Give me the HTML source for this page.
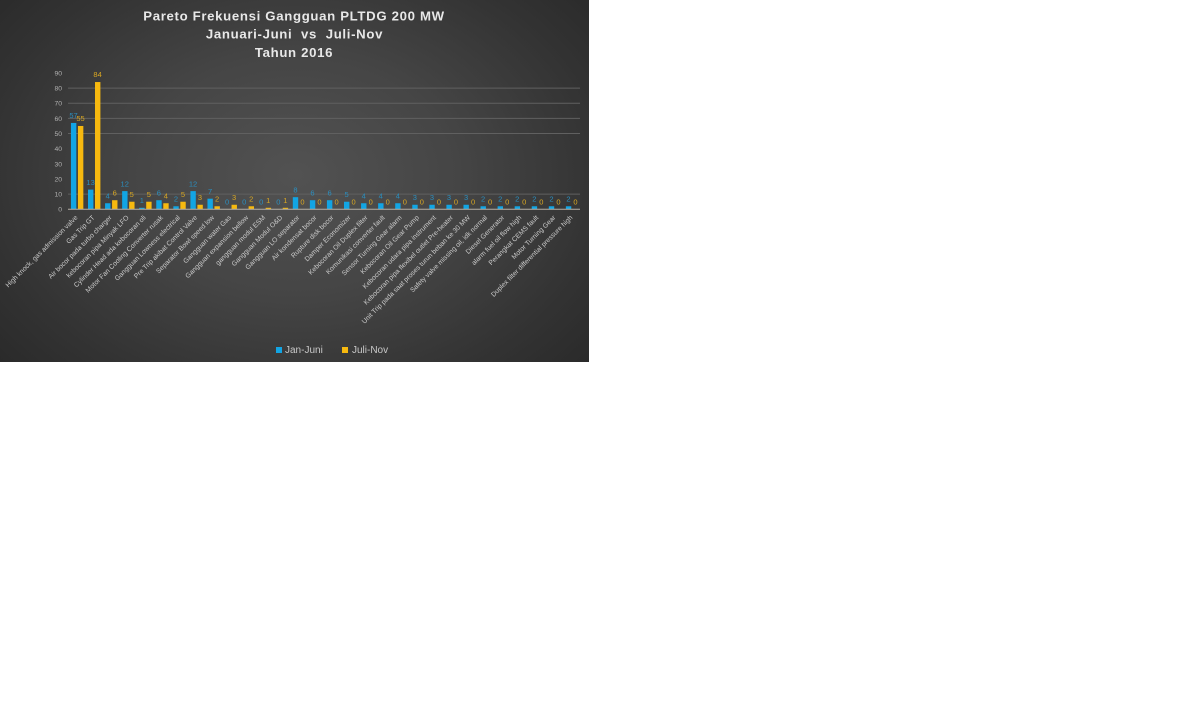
<!DOCTYPE html>
<html lang="id">
<head>
<meta charset="utf-8">
<title>Pareto Frekuensi Gangguan PLTDG 200 MW</title>
<style>
html,body{margin:0;padding:0;background:#fff;width:1178px;height:724px;overflow:hidden}
#chart-panel{position:absolute;left:0;top:0;width:589px;height:362px;background:radial-gradient(ellipse 410px 300px at 295px 175px,#525252 0%,#454545 40%,#333 75%,#282828 100%)}
svg{position:absolute;left:0;top:0;filter:blur(.2px);font-family:"Liberation Sans",sans-serif}
</style>
</head>
<body>
<div id="chart-panel">
<svg id="chart" width="589" height="362" viewBox="0 0 589 362">
<g fill="#e8e8e8" font-size="13.2" font-weight="bold" text-anchor="middle" letter-spacing=".67">
<text x="294" y="20.5">Pareto Frekuensi Gangguan PLTDG 200 MW</text>
<text x="294.5" y="38.5" xml:space="preserve">Januari-Juni  vs  Juli-Nov</text>
<text x="294" y="57">Tahun 2016</text>
</g>
<g id="grid"></g>
<g id="y-axis"></g>
<g id="bars"></g>
<g id="values"></g>
<g id="x-axis"></g>
<g font-size="10" fill="#c8c8c8">
<g>
<rect x="276" y="347" width="6" height="6" fill="#12a5e4"></rect>
<text x="285" y="353">Jan-Juni</text>
</g>
<g>
<rect x="342" y="347" width="6" height="6" fill="#f7b90f"></rect>
<text x="352" y="353">Juli-Nov</text>
</g>
</g>
</svg>
</div>
<script>
const categories = [
"High knock, gas admission valve","Gas Trip GT","Air bocor pada turbo charger","kebocoran pipa Minyak LFO",
"Cylinder Head ada kebocoran oli","Motor Fan Cooling Converter rusak","Gangguan Lowness electrical","Pre Trip akibat Control Valve",
"Separator Bowl speed low","Gangguan water Gas","Gangguan expansion bellow","gangguan modul ESM",
"Gangguan Modul O&D","Gangguan LO separator","Air kondensat bocor","Rupture disk bocor",
"Damper Economizer","Kebocoran Oil Duplex filter","Komunikasi converter fault","Sensor Turning Gear alarm",
"Kebocoran Oil Gear Pump","Kebocoran udara pipa instrument","Kebocoran pipa flexibel outlet Pre-heater","Unit Trip pada saat proses turun beban ke 30 MW",
"Safety valve missing oil, idk normal","Diesel Generator","alarm fuel oil flow high","Perangkat CEMS fault",
"Motor Turning Gear","Duplex filter differential pressure high"];
const janJuni = [57,13,4,12,1,6,2,12,7,0,0,0,0,8,6,6,5,4,4,4,3,3,3,3,2,2,2,2,2,2];
const juliNov = [55,84,6,5,5,4,5,3,2,3,2,1,1,0,0,0,0,0,0,0,0,0,0,0,0,0,0,0,0,0];
const yTicks = [0,10,20,30,40,50,60,70,80,90];
const visibleGridlines = [10,50,60,70,80];

const NS = "http://www.w3.org/2000/svg";
const plot = {left:68, right:580, base:209.3, pxPerUnit:1.515};
const yScale = v => plot.base - v * plot.pxPerUnit;
const xBand = i => plot.left + (plot.right - plot.left) / categories.length * (i + .5);
function make(tag, parent, attrs, text){
  const el = document.createElementNS(NS, tag);
  for (const k in attrs) el.setAttribute(k, attrs[k]);
  if (text !== undefined) el.textContent = text;
  document.getElementById(parent).appendChild(el);
  return el;
}
visibleGridlines.forEach(v => {
  const el = make("line","grid",{x1:plot.left,x2:plot.right,y1:yScale(v),y2:yScale(v),stroke:"#606060","stroke-width":1});
  
  
});
yTicks.forEach(v => {
  const el = make("text","y-axis",{x:62,y:yScale(v)+2.4,"text-anchor":"end","font-size":6.8,fill:"#b0b0b0"},v);
  
  
});
const barWidth = 5.4;
categories.forEach((name,i) => {
  const cx = xBand(i);
  const a = janJuni[i], b = juliNov[i];
  const r1 = make("rect","bars",{x:cx-5.6,y:yScale(a),width:barWidth,height:plot.base-yScale(a),fill:"#12a5e4"});
  
  
  const r2 = make("rect","bars",{x:cx+1.4,y:yScale(b),width:barWidth,height:plot.base-yScale(b),fill:"#f7b90f"});
  
  
  const t1 = make("text","values",{x:cx-3,y:yScale(a)-4.8,"text-anchor":"middle","font-size":7.5,fill:"#2a8fc0"},a);
  
  
  const t2 = make("text","values",{x:cx+4,y:yScale(b)-4.8,"text-anchor":"middle","font-size":7.5,fill:"#d9a722"},b);
  
  
  const lx = cx + 1.5, ly = 218;
  const t3 = make("text","x-axis",{x:0,y:0,"text-anchor":"end","font-size":6.8,fill:"#cccccc",transform:`translate(${lx} ${ly}) rotate(-45)`},name);
  
  
});
const axis = make("line","x-axis",{x1:plot.left,x2:plot.right,y1:plot.base,y2:plot.base,stroke:"#b5b0a6","stroke-width":1});


</script>
</body>
</html>
